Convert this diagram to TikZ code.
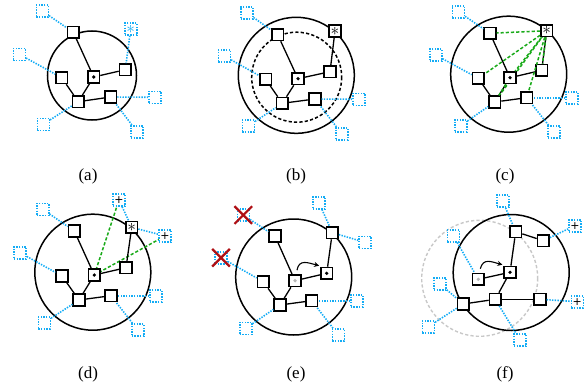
\documentclass[tikz,border=0pt]{standalone}
\usepackage{fontspec}
\setmainfont{Liberation Serif}
\newfontfamily\signfont{DejaVu Sans}
\usetikzlibrary{arrows.meta}
\definecolor{linkblue}{RGB}{20,172,245}
\definecolor{probegreen}{RGB}{25,170,25}
\definecolor{dropred}{RGB}{175,15,20}
\definecolor{oldgray}{RGB}{200,200,200}
\begin{document}
\begin{tikzpicture}[x=1pt,y=-1pt,
  peer/.style={draw=black,line width=1.7pt,fill=white,minimum size=11.5pt,inner sep=0pt},
  ghost/.style={draw=linkblue,line width=1.6pt,dash pattern=on 1.4pt off 1.3pt,fill=white,minimum size=12pt,inner sep=0pt},
  link/.style={line width=1.3pt},
  weak/.style={linkblue,line width=1.6pt,dash pattern=on 1.4pt off 1.3pt},
  probe/.style={probegreen,line width=1.5pt,dash pattern=on 3.2pt off 2pt},
  ring/.style={line width=1.5pt},
  cross/.style={dropred,line width=2.2pt},
  move/.style={-{Stealth[length=5pt,width=5pt]},line width=1.1pt},
  dot/.style={fill=black},
  olddot/.style={fill=black!28},
  caption/.style={font=\fontsize{17}{19}\selectfont},
  startxt/.style={font=\fontsize{19}{19}\selectfont},
  plustxt/.style={font=\signfont\fontsize{11}{11}\selectfont,text=black},
]
\useasboundingbox (0,0) rectangle (586,388);

% ---------------- (a) ----------------
\draw[ring] (92,75.5) circle (44.5);
\node[peer] (aT) at (73.3,32.3) {};
\node[peer] (aL) at (61.7,77.7) {};
\node[peer] (aC) at (93.7,77) {};
\node[peer] (aR) at (125.3,69.7) {};
\node[peer] (aB) at (78.3,101.7) {};
\node[peer] (aLR) at (110.7,97) {};
\node[ghost] (aE1) at (42.3,11) {};
\node[ghost] (aE2) at (19.3,54.3) {};
\node[ghost,text=linkblue,startxt] (aS) at (130.7,29) {$\ast$};
\node[ghost] (aE3) at (155,97.3) {};
\node[ghost] (aE4) at (137,131.7) {};
\node[ghost] (aE5) at (43.3,124.3) {};
\draw[weak] (aE1) -- (aT);
\draw[weak] (aE2) -- (aL);
\draw[weak] (aS) -- (aR);
\draw[weak] (aE3) -- (aLR);
\draw[weak] (aE4) -- (aLR);
\draw[weak] (aE5) -- (aB);
\draw[link] (aT) -- (aC);
\draw[link] (aC) -- (aR);
\draw[link] (aC) -- (aB);
\draw[link] (aL) -- (aB);
\draw[link] (aB) -- (aLR);
\fill[dot] (aC.center) circle (1.8pt);
\node[caption] (capa) at (88,176) {(a)};

% ---------------- (b) ----------------
\draw[ring] (296.3,75.3) circle (58);
\draw[ring,dash pattern=on 3.2pt off 2.2pt] (296.7,77.2) circle (45);
\node[peer] (bT) at (277.7,34.7) {};
\node[peer,startxt] (bS) at (335,31) {$\ast$};
\node[peer] (bL) at (265.7,79.3) {};
\node[peer] (bC) at (298,78.7) {};
\node[peer] (bR) at (330,71.7) {};
\node[peer] (bB) at (282.3,103.3) {};
\node[peer] (bLR) at (315,99) {};
\node[ghost] (bE1) at (246.7,12.7) {};
\node[ghost] (bE2) at (224.3,56) {};
\node[ghost] (bE3) at (359,99.3) {};
\node[ghost] (bE4) at (341.7,133.7) {};
\node[ghost] (bE5) at (248.3,126) {};
\draw[weak] (bE1) -- (bT);
\draw[weak] (bE2) -- (bL);
\draw[weak] (bE3) -- (bLR);
\draw[weak] (bE4) -- (bLR);
\draw[weak] (bE5) -- (bB);
\draw[link] (bS) -- (bR);
\draw[link] (bT) -- (bC);
\draw[link] (bC) -- (bR);
\draw[link] (bC) -- (bB);
\draw[link] (bL) -- (bB);
\draw[link] (bB) -- (bLR);
\fill[dot] (bC.center) circle (1.8pt);
\node[caption] (capb) at (296,176) {(b)};

% ---------------- (c) ----------------
\draw[ring] (508.7,74.2) circle (58);
\coordinate (cSp) at (546.7,30.7);
\coordinate (cBp) at (494.7,102);
\draw[probe] (cSp) -- (cBp);
\node[peer] (cT) at (490,33.3) {};
\node[peer,startxt] (cS) at (cSp) {$\ast$};
\node[peer] (cL) at (478.3,78.3) {};
\node[peer] (cC) at (510,77.7) {};
\node[peer] (cR) at (541.7,70.3) {};
\node[peer] (cB) at (cBp) {};
\node[peer] (cLR) at (526.7,97.7) {};
\node[ghost] (cE1) at (458.3,11.7) {};
\node[ghost] (cE2) at (435.7,55) {};
\node[ghost] (cE3) at (571.7,97.7) {};
\node[ghost] (cE4) at (554,132) {};
\node[ghost] (cE5) at (460.7,125.7) {};
\draw[weak] (cE1) -- (cT);
\draw[weak] (cE2) -- (cL);
\draw[weak] (cE3) -- (cLR);
\draw[weak] (cE4) -- (cLR);
\draw[weak] (cE5) -- (cB);
\draw[link] (cS) -- (cR);
\draw[link] (cT) -- (cC);
\draw[link] (cC) -- (cR);
\draw[link] (cC) -- (cB);
\draw[link] (cL) -- (cB);
\draw[link] (cB) -- (cLR);
\draw[probe] (cS) -- (cT);
\draw[probe] (cS) -- (cL);
\draw[probe] (cS) -- (cC);
\draw[probe] (cC) -- (cB);
\draw[probe] (cS) -- (cR);
\draw[probe] (cS) -- (cLR);
\fill[dot] (cC.center) circle (1.8pt);
\node[caption] (capc) at (505,176) {(c)};

% ---------------- (d) ----------------
\draw[ring] (92.8,272.2) circle (58);
\coordinate (dCp) at (94.3,275);
\coordinate (dP1p) at (119,200);
\coordinate (dP2p) at (165,236);
\draw[probe] (dCp) -- (dP1p);
\draw[probe] (dCp) -- (dP2p);
\node[peer] (dT) at (74.3,231) {};
\node[peer,startxt] (dS) at (131.7,227.3) {$\ast$};
\node[peer] (dL) at (62,276) {};
\node[peer] (dC) at (dCp) {};
\node[peer] (dR) at (126,267.7) {};
\node[peer] (dB) at (79,300) {};
\node[peer] (dLR) at (111,295.7) {};
\node[ghost] (dE1) at (42.7,209.3) {};
\node[ghost] (dE2) at (20,252.7) {};
\node[ghost,plustxt] (dP1) at (dP1p) {+};
\node[ghost,plustxt] (dP2) at (dP2p) {+};
\node[ghost] (dE3) at (155.7,295.7) {};
\node[ghost] (dE4) at (137.7,330) {};
\node[ghost] (dE5) at (44.3,322.7) {};
\draw[weak] (dE1) -- (dT);
\draw[weak] (dE2) -- (dL);
\draw[weak] (dP1) -- (dS);
\draw[weak] (dS) -- (dP2);
\draw[weak] (dE3) -- (dLR);
\draw[weak] (dE4) -- (dLR);
\draw[weak] (dE5) -- (dB);
\draw[link] (dS) -- (dR);
\draw[link] (dT) -- (dC);
\draw[link] (dC) -- (dR);
\draw[link] (dC) -- (dB);
\draw[link] (dL) -- (dB);
\draw[link] (dB) -- (dLR);
\fill[dot] (dC.center) circle (1.8pt);
\node[caption] (capd) at (88,374) {(d)};

% ---------------- (e) ----------------
\draw[ring] (293.7,277) circle (58);
\node[peer] (eT) at (275,236) {};
\node[peer] (eTR) at (332.3,232.7) {};
\node[peer] (eL) at (263.3,281.7) {};
\node[peer] (eC) at (295,280.7) {};
\node[peer] (eN) at (326.7,273.3) {};
\node[peer] (eB) at (280,305) {};
\node[peer] (eLR) at (311.7,300.7) {};
\node[ghost] (eX1) at (243.3,215) {};
\node[ghost] (eX2) at (221,257.7) {};
\node[ghost] (eE1) at (319,202.7) {};
\node[ghost] (eE2) at (365,242.3) {};
\node[ghost] (eE3) at (356.7,300.7) {};
\node[ghost] (eE4) at (338.3,335) {};
\node[ghost] (eE5) at (245.7,328.3) {};
\draw[weak] (eX1) -- (eT);
\draw[weak] (eX2) -- (eL);
\draw[weak] (eE1) -- (eTR);
\draw[weak] (eTR) -- (eE2);
\draw[weak] (eE3) -- (eLR);
\draw[weak] (eE4) -- (eLR);
\draw[weak] (eE5) -- (eB);
\draw[cross] ([shift={(-2,-2)}]eX1.north west) -- ([shift={(2,2)}]eX1.south east);
\draw[cross] ([shift={(2,-2)}]eX1.north east) -- ([shift={(-2,2)}]eX1.south west);
\draw[cross] ([shift={(-2,-2)}]eX2.north west) -- ([shift={(2,2)}]eX2.south east);
\draw[cross] ([shift={(2,-2)}]eX2.north east) -- ([shift={(-2,2)}]eX2.south west);
\draw[link] (eT) -- (eC);
\draw[link] (eC) -- (eN);
\draw[link] (eN) -- (eTR);
\draw[link] (eC) -- (eB);
\draw[link] (eL) -- (eB);
\draw[link] (eB) -- (eLR);
\fill[olddot] (eC.center) circle (1.8pt);
\fill[dot] (eN.center) circle (1.8pt);
\draw[move] ([shift={(2,-4)}]eC.north) to[out=80,in=165,looseness=1.3] ([shift={(-1,-1)}]eN.north west);
\node[caption] (cape) at (296,374) {(e)};

% ---------------- (f) ----------------
\draw[oldgray,line width=1.4pt,dash pattern=on 3.2pt off 2.2pt] (479.7,278.3) circle (58);
\draw[ring] (511.2,272.5) circle (58);
\node[peer] (fT) at (515.7,231.7) {};
\node[peer] (fTR) at (543.3,240.7) {};
\node[peer] (fC) at (478.3,279.3) {};
\node[peer] (fN) at (510,272.3) {};
\node[peer] (fL) at (463.3,304) {};
\node[peer] (fB) at (495.3,299.3) {};
\node[peer] (fR) at (540,299.3) {};
\node[ghost] (fE1) at (502.7,201) {};
\node[ghost,plustxt] (fP1) at (575,225.7) {+};
\node[ghost] (fE2) at (453.3,235.7) {};
\node[ghost] (fE3) at (440,284) {};
\node[ghost] (fE4) at (428.3,326.7) {};
\node[ghost] (fE5) at (520,340) {};
\node[ghost,plustxt] (fP2) at (577.3,301.7) {+};
\draw[weak] (fE1) -- (fT);
\draw[weak] (fTR) -- (fP1);
\draw[weak] (fE2) -- (fC);
\draw[weak] (fE3) -- (fL);
\draw[weak] (fE4) -- (fL);
\draw[weak] (fB) -- (fE5);
\draw[weak] (fR) -- (fP2);
\draw[link] (fC) -- (fN);
\draw[link] (fT) -- (fN);
\draw[link] (fT) -- (fTR);
\draw[link] (fN) -- (fB);
\draw[link] (fL) -- (fB);
\draw[link] (fB) -- (fR);
\fill[olddot] (fC.center) circle (1.8pt);
\fill[dot] (fN.center) circle (1.8pt);
\draw[move] ([shift={(2,-4)}]fC.north) to[out=75,in=165,looseness=1.3] ([shift={(-1,-1)}]fN.north west);
\node[caption] (capf) at (505,374) {(f)};
\end{tikzpicture}
\end{document}
